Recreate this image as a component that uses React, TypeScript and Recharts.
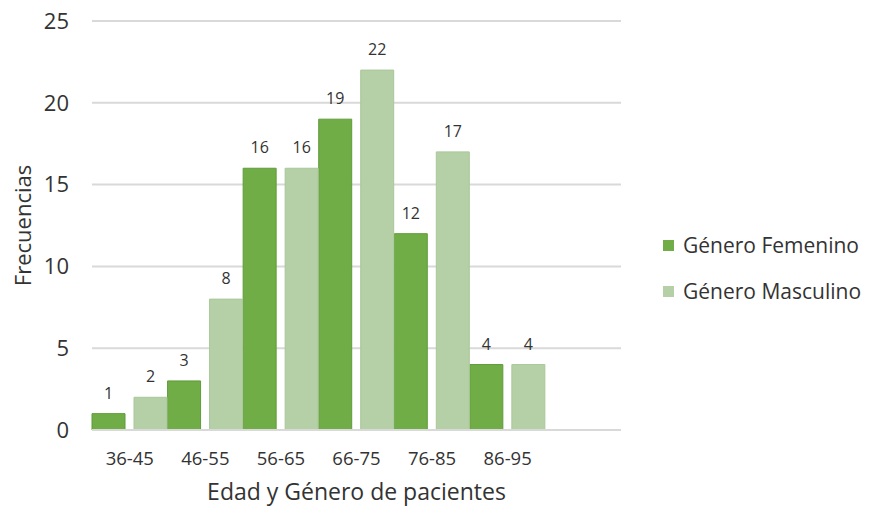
import { BarChart, Bar, XAxis, YAxis, CartesianGrid, Legend, LabelList, Label } from 'recharts';

// age bands on the x axis; the last band is left blank on purpose
const ageGroups = ['36-45', '46-55', '56-65', '66-75', '76-85', '86-95', ''];
const femenino = [1, 3, 16, 19, 12, 4, null];
const masculino = [2, 8, 16, 22, 17, 4, null];
const yTicks = [0, 5, 10, 15, 20, 25];

const data = ageGroups.map((grupo, i) => ({
  grupo,
  femenino: femenino[i],
  masculino: masculino[i],
}));

const FONT = '"Open Sans", "Noto Sans", sans-serif';
const TEXT = '#333333';

function YTitle(props: any) {
  const { viewBox } = props;
  const cx = viewBox.x + 22;
  const cy = viewBox.y + viewBox.height / 2;
  return (
    <text
      x={cx}
      y={cy}
      transform={`rotate(-90 ${cx} ${cy})`}
      textAnchor="middle"
      dominantBaseline="central"
      fontSize={22}
      fontFamily={FONT}
      fill={TEXT}
    >
      Frecuencias
    </text>
  );
}

function LegendBox({ payload }: any) {
  return (
    <div style={{ fontFamily: FONT, fontSize: 21, color: TEXT }}>
      {(payload || []).map((item: any) => (
        <div key={item.value} style={{ display: 'flex', alignItems: 'center', height: 46 }}>
          <span style={{ width: 11, height: 11, background: item.color, marginRight: 9, display: 'inline-block' }} />
          <span style={{ whiteSpace: 'nowrap' }}>{item.value}</span>
        </div>
      ))}
    </div>
  );
}

export default function App() {
  return (
    <div style={{ position: 'absolute', left: 0, top: 0, background: '#fff' }}>
      <BarChart
        width={876}
        height={508}
        data={data}
        margin={{ top: 21, right: 255, bottom: 0, left: 0 }}
        barCategoryGap={0}
        barGap={9}
      >
        <CartesianGrid vertical={false} stroke="#d9d9d9" strokeWidth={2} />
        <XAxis
          dataKey="grupo"
          height={78}
          axisLine={{ stroke: '#d9d9d9', strokeWidth: 2 }}
          tickLine={false}
          tickMargin={16}
          interval={0}
          tick={{ fontSize: 18.5, fontFamily: FONT, fill: TEXT }}
        >
          <Label
            value="Edad y Género de pacientes"
            position="insideBottom"
            offset={8}
            style={{ fontSize: 23, fontFamily: FONT, fill: TEXT }}
          />
        </XAxis>
        <YAxis
          width={92}
          domain={[0, 25]}
          ticks={yTicks}
          axisLine={false}
          tickLine={false}
          tickMargin={17}
          tick={{ fontSize: 22, fontFamily: FONT, fill: TEXT }}
        >
          <Label content={YTitle} />
        </YAxis>
        <Legend
          layout="vertical"
          align="center"
          verticalAlign="middle"
          content={LegendBox}
          wrapperStyle={{ left: 663, top: 222, width: 'auto' }}
        />
        <Bar
          dataKey="femenino"
          name="Género Femenino"
          fill="#70AD47"
          stroke="#5f9c3a"
          strokeWidth={1}
          isAnimationActive={false}
        >
          <LabelList dataKey="femenino" position="top" offset={15} fontSize={16} fontFamily={FONT} fill={TEXT} />
        </Bar>
        <Bar
          dataKey="masculino"
          name="Género Masculino"
          fill="#B5CFA6"
          stroke="#aac79a"
          strokeWidth={1}
          isAnimationActive={false}
        >
          <LabelList dataKey="masculino" position="top" offset={15} fontSize={16} fontFamily={FONT} fill={TEXT} />
        </Bar>
      </BarChart>
    </div>
  );
}
